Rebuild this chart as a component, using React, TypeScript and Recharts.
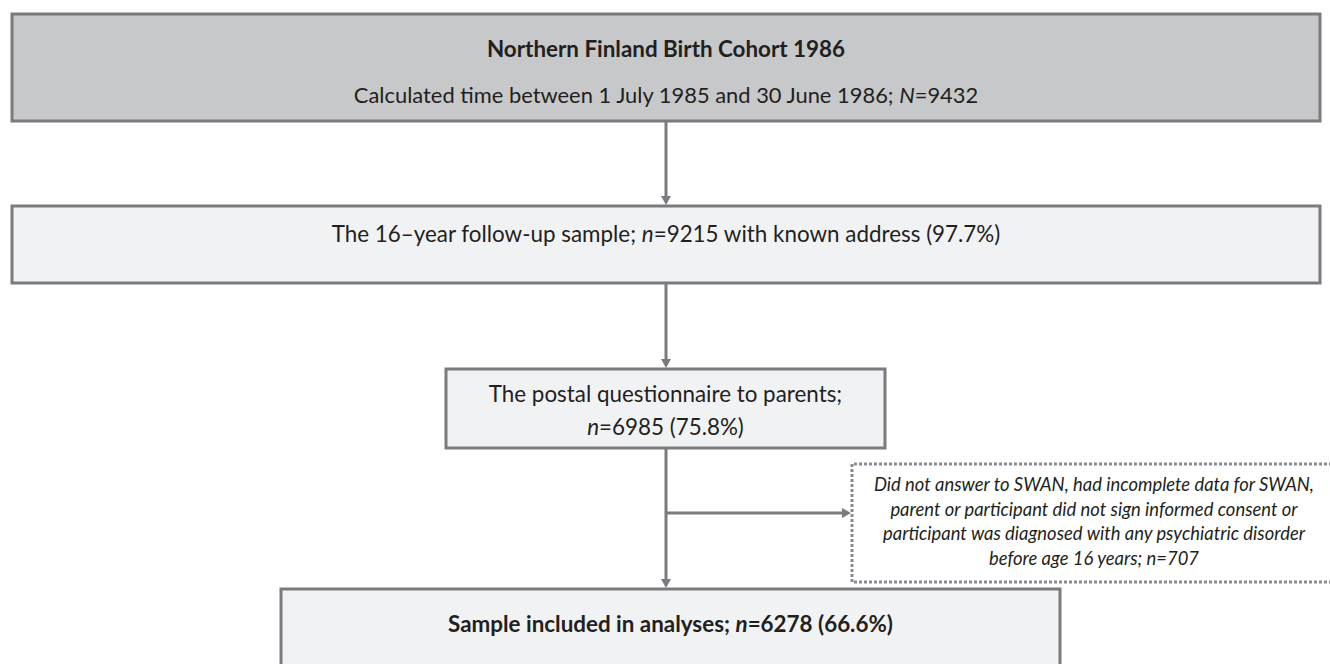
import React from 'react';
import { ComposedChart, XAxis, YAxis, ReferenceArea, ReferenceLine } from 'recharts';

// flowchart values
const stageNames = [
  'Northern Finland Birth Cohort 1986',
  'The 16–year follow-up sample',
  'The postal questionnaire to parents',
  'Sample included in analyses',
];
const stageCounts = [9432, 9215, 6985, 6278];
const stagePercents = [null, 97.7, 75.8, 66.6];
const cohortPeriod = 'Calculated time between 1 July 1985 and 30 June 1986';
const addressNote = 'with known address';
const exclusionLines = [
  'Did not answer to SWAN, had incomplete data for SWAN,',
  'parent or participant did not sign informed consent or',
  'participant was diagnosed with any psychiatric disorder',
  'before age 16 years',
];
const excludedCount = 707;

const W = 1330;
const H = 664;
const FONT = 'Lato, "Open Sans", sans-serif';
const LINE = '#7a7b7e';
const INK = '#231f20';
const TEXT_SIZE = 22.4;

type Seg = { text: string; italic?: boolean };
type TextLine = { segs: Seg[]; bold?: boolean; italic?: boolean; size?: number };

const pct = (v: number | null) => (v == null ? '' : ` (${v.toFixed(1)}%)`);

const boxLines: TextLine[][] = [
  [
    { segs: [{ text: stageNames[0] }], bold: true },
    { segs: [{ text: `${cohortPeriod}; ` }, { text: 'N', italic: true }, { text: `=${stageCounts[0]}` }], size: 21.9 },
  ],
  [
    {
      segs: [
        { text: `${stageNames[1]}; ` },
        { text: 'n', italic: true },
        { text: `=${stageCounts[1]} ${addressNote}${pct(stagePercents[1])}` },
      ],
    },
  ],
  [
    { segs: [{ text: `${stageNames[2]};` }] },
    { segs: [{ text: 'n', italic: true }, { text: `=${stageCounts[2]}${pct(stagePercents[2])}` }] },
  ],
  [
    {
      segs: [
        { text: `${stageNames[3]}; ` },
        { text: 'n', italic: true },
        { text: `=${stageCounts[3]}${pct(stagePercents[3])}` },
      ],
      bold: true,
    },
  ],
];

const exclusionText: TextLine[] = exclusionLines.map((t, i) => ({
  segs: [{ text: i === exclusionLines.length - 1 ? `${t}; n=${excludedCount}` : t }],
  italic: true,
  size: 18.4,
}));

// layout in chart units (domain equals the pixel size)
const boxLayout = [
  { x1: 12, x2: 1320, y1: 14, y2: 121, fill: '#c7c8ca', lineY: [48, 94] },
  { x1: 12, x2: 1320, y1: 206, y2: 283, fill: '#f1f2f4', lineY: [233] },
  { x1: 446, x2: 885, y1: 369, y2: 448, fill: '#f1f2f4', lineY: [393, 426] },
  { x1: 281, x2: 1060, y1: 589, y2: 674, fill: '#f1f2f4', lineY: [623] },
];
const exclusionLayout = { x1: 852, x2: 1332, y1: 464, y2: 582, lineY: [484, 509, 533, 558], textX: 1094 };

const arrows = [
  { from: { x: 666, y: 122 }, to: { x: 666, y: 205 } },
  { from: { x: 666, y: 284 }, to: { x: 666, y: 368 } },
  { from: { x: 666, y: 449 }, to: { x: 666, y: 588 } },
  { from: { x: 666, y: 513 }, to: { x: 851, y: 513 } },
];

const renderLines = (lines: TextLine[], cx: number, ys: number[]) =>
  lines.map((ln, i) => (
    <text
      key={i}
      x={cx}
      y={ys[i]}
      textAnchor="middle"
      dominantBaseline="central"
      fontFamily={FONT}
      fontSize={ln.size ?? TEXT_SIZE}
      fontWeight={ln.bold ? 700 : 400}
      fontStyle={ln.italic ? 'italic' : 'normal'}
      fill={INK}
    >
      {ln.segs.map((s, j) => (
        <tspan key={j} fontStyle={s.italic || ln.italic ? 'italic' : 'normal'}>
          {s.text}
        </tspan>
      ))}
    </text>
  ));

const boxShape = (idx: number) => (props: any) => {
  const { x, y, width, height } = props;
  const b = boxLayout[idx];
  const k = height / (b.y2 - b.y1);
  const ys = b.lineY.map((ly) => y + (ly - b.y1) * k);
  return (
    <g>
      <rect x={x} y={y} width={width} height={height} fill={b.fill} stroke={LINE} strokeWidth={3} />
      {renderLines(boxLines[idx], x + width / 2, ys)}
    </g>
  );
};

const exclusionShape = (props: any) => {
  const { x, y, width, height } = props;
  const b = exclusionLayout;
  const k = height / (b.y2 - b.y1);
  const ys = b.lineY.map((ly) => y + (ly - b.y1) * k);
  const tx = x + ((b.textX - b.x1) / (b.x2 - b.x1)) * width;
  return (
    <g>
      <rect x={x} y={y} width={width} height={height} fill="#ffffff" stroke="none" />
      <path
        d={`M${x + width},${y} L${x},${y} L${x},${y + height} L${x + width},${y + height}`}
        fill="none"
        stroke="#8a8b8e"
        strokeWidth={3}
        strokeDasharray="3 2"
      />
      {renderLines(exclusionText, tx, ys)}
    </g>
  );
};

const arrowShape = (props: any) => {
  const { x1, y1, x2, y2 } = props;
  const len = Math.hypot(x2 - x1, y2 - y1) || 1;
  const ux = (x2 - x1) / len;
  const uy = (y2 - y1) / len;
  const head = 9;
  const half = 5;
  const bx = x2 - ux * head;
  const by = y2 - uy * head;
  return (
    <g>
      <line x1={x1} y1={y1} x2={bx} y2={by} stroke={LINE} strokeWidth={3} />
      <polygon
        points={`${x2},${y2} ${bx - uy * half},${by + ux * half} ${bx + uy * half},${by - ux * half}`}
        fill={LINE}
      />
    </g>
  );
};

export default function App() {
  return (
    <div style={{ position: 'absolute', top: 0, left: 0, width: W, height: H, background: '#ffffff' }}>
      <ComposedChart width={W} height={H} margin={{ top: 0, right: 0, bottom: 0, left: 0 }} data={[]}>
        <XAxis type="number" dataKey="x" domain={[0, W]} hide allowDataOverflow />
        <YAxis type="number" dataKey="y" domain={[0, H]} reversed hide allowDataOverflow width={0} />
        {boxLayout.map((b, i) => (
          <ReferenceArea
            key={`box-${i}`}
            x1={b.x1}
            x2={b.x2}
            y1={b.y1}
            y2={b.y2}
            ifOverflow="visible"
            shape={boxShape(i)}
          />
        ))}
        <ReferenceArea
          x1={exclusionLayout.x1}
          x2={exclusionLayout.x2}
          y1={exclusionLayout.y1}
          y2={exclusionLayout.y2}
          ifOverflow="visible"
          shape={exclusionShape}
        />
        {arrows.map((a, i) => (
          <ReferenceLine key={`arrow-${i}`} segment={[a.from, a.to]} ifOverflow="visible" shape={arrowShape} />
        ))}
      </ComposedChart>
    </div>
  );
}
